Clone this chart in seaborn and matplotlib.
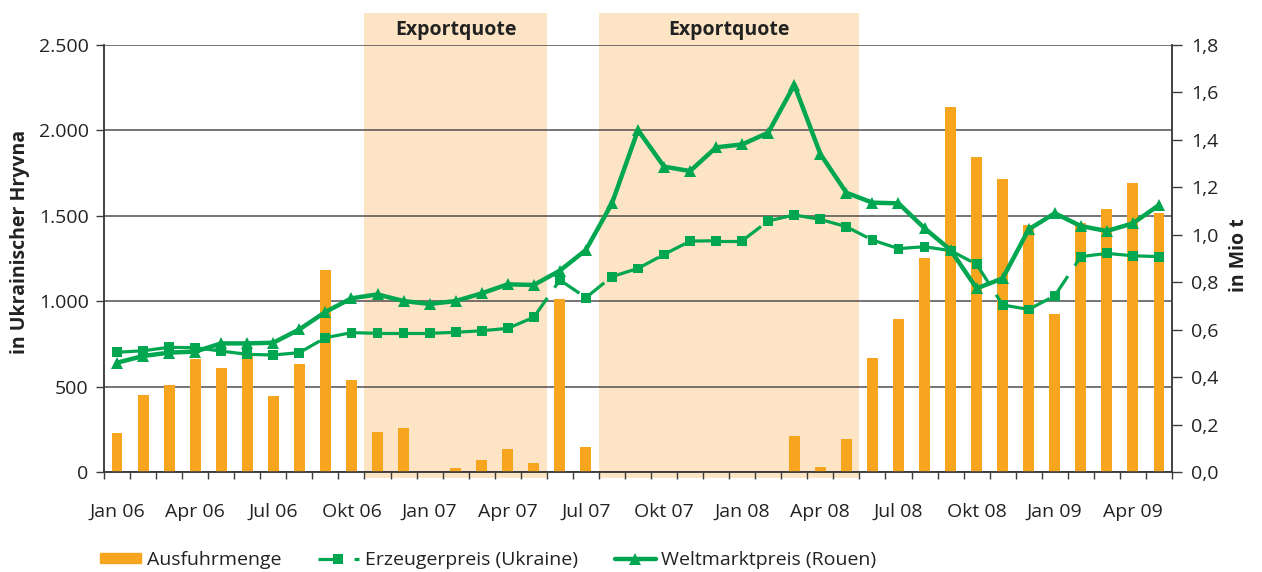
import numpy as np
import matplotlib.pyplot as plt
import seaborn as sns
from matplotlib.lines import Line2D
from matplotlib.patches import Patch
from matplotlib.ticker import FuncFormatter

# months Jan 06 .. Mai 09
monate = ["Jan", "Feb", "Mär", "Apr", "Mai", "Jun", "Jul", "Aug", "Sep", "Okt", "Nov", "Dez"]
months = [f"{m} {j:02d}" for j in (6, 7, 8, 9) for m in monate][:41]
tick_labels = months[::3]

# Ausfuhrmenge in Mio t (right axis)
ausfuhr = [0.166, 0.323, 0.366, 0.475, 0.437, 0.500, 0.322, 0.457, 0.852, 0.387, 0.167, 0.187,
           0.0, 0.017, 0.051, 0.098, 0.039, 0.729, 0.104, 0.002, 0.002, 0.002, 0.002, 0.0,
           0.0, 0.002, 0.152, 0.020, 0.139, 0.482, 0.644, 0.904, 1.537, 1.329, 1.234, 1.040,
           0.667, 1.048, 1.110, 1.220, 1.092]

# Erzeugerpreis (Ukraine), Hryvna
erzeuger = [701, 710, 730, 728, 708, 689, 685, 699, 786, 816, 812, 812,
            812, 818, 827, 841, 906, 1124, 1021, 1144, 1192, 1274, 1352, 1354,
            1354, 1470, 1505, 1479, 1436, 1358, 1308, 1319, 1296, 1216, 978, 952,
            1032, 1261, 1280, 1266, 1261]

# Weltmarktpreis (Rouen), Hryvna
welt = [640, 679, 699, 705, 753, 753, 757, 835, 937, 1017, 1040, 1001,
        984, 1001, 1046, 1099, 1095, 1179, 1300, 1573, 2002, 1788, 1762, 1901,
        1918, 1987, 2266, 1862, 1635, 1577, 1573, 1427, 1300, 1075, 1134, 1421,
        1515, 1440, 1411, 1456, 1563]

# Exportquote periods (first and last month)
quote_perioden = [("Nov 06", "Mai 07"), ("Aug 07", "Mai 08")]

orange = "#F7A51E"
green = "#00A650"
peach = "#FDE4C4"
dark = "#3c3c3c"

sns.set_theme(style="white")
plt.rcParams["font.family"] = ["Open Sans", "DejaVu Sans"]
plt.rcParams["lines.scale_dashes"] = False
fs = 14

fig = plt.figure(figsize=(12.62, 5.72), dpi=100)
ax = fig.add_axes([0.0824, 0.1748, 0.8463, 0.7465])
ax_b = ax.twinx()
ax_l = ax.twinx()

idx = np.arange(len(months))

# shaded periods with label
for start, end in quote_perioden:
    a, b = months.index(start) - 0.5, months.index(end) + 0.5
    ax.axvspan(a, b, ymin=-0.014, ymax=1.075, color=peach, lw=0, zorder=0, clip_on=False)
    ax.text((a + b) / 2, 1.034, "Exportquote", transform=ax.get_xaxis_transform(),
            ha="center", va="center", fontsize=fs, fontweight="bold", color="#222222")

# bars on right axis
sns.barplot(x=idx, y=ausfuhr, ax=ax_b, color=orange, saturation=1, width=0.42, linewidth=0)

# lines on left scale
sns.lineplot(x=idx, y=welt, ax=ax_l, color=green, lw=3.2, marker="^",
             markersize=8.5, markeredgewidth=0, zorder=3)
for i in range(len(idx) - 1):
    ax_l.plot(idx[i:i + 2], erzeuger[i:i + 2], color=green, lw=2.3,
              dashes=(17, 9), dash_capstyle="butt", zorder=4)
sns.scatterplot(x=idx, y=erzeuger, ax=ax_l, color=green, marker="s", s=50,
                edgecolor="none", zorder=5)

# left axis (Hryvna)
ax.set_ylim(0, 2500)
ax.set_yticks(range(0, 2501, 500))
ax.yaxis.set_major_formatter(FuncFormatter(lambda v, p: f"{int(v):,}".replace(",", ".")))
ax.yaxis.grid(True, color="#505050", lw=1.1)
ax.set_axisbelow(True)
ax.set_ylabel("in Ukrainischer Hryvna", fontsize=fs, fontweight="bold", color="#222222")
ax.yaxis.set_label_coords(-0.069, 0.539)

# right axis (Mio t)
ax_b.set_ylim(0, 1.8)
ax_b.set_yticks(np.arange(0, 1.81, 0.2))
ax_b.yaxis.set_major_formatter(FuncFormatter(lambda v, p: f"{v:.1f}".replace(".", ",")))
ax_b.set_ylabel("in Mio t", fontsize=fs, fontweight="bold", color="#222222")
ax_b.yaxis.set_label_coords(1.053, 0.508)
ax_b.set_xlabel("")

ax_l.set_ylim(0, 2500)
ax_l.axis("off")

# x axis
ax.set_xlim(-0.5, len(months) - 0.5)
ax.set_xticks(idx[::3], labels=tick_labels)
ax.set_xticks(np.arange(-0.5, len(months)), minor=True)
ax.tick_params(axis="x", which="major", length=0, pad=22, labelsize=fs, labelcolor="#222222")
ax.tick_params(axis="x", which="minor", length=5, width=1, color=dark, direction="out", bottom=True)
ax.tick_params(axis="y", length=6, width=1, color=dark, direction="out", pad=5,
               labelsize=fs, labelcolor="#222222", left=True)
ax_b.tick_params(axis="y", length=7, width=1, color=dark, direction="out", pad=7,
                 labelsize=fs, labelcolor="#222222", right=True)

for a_ in (ax, ax_b):
    for side in ("left", "right", "bottom"):
        a_.spines[side].set_color(dark)
        a_.spines[side].set_linewidth(1.1)
    a_.spines["top"].set_visible(False)

# legend
handles = [
    Patch(color=orange),
    Line2D([], [], color=green, lw=2.3, dashes=(17, 9), marker="s", markersize=7,
           markeredgewidth=0),
    Line2D([], [], color=green, lw=3.2, marker="^", markersize=8, markeredgewidth=0),
]
labels = ["Ausfuhrmenge", "Erzeugerpreis (Ukraine)", "Weltmarktpreis (Rouen)"]
fig.legend(handles, labels, loc="center left", bbox_to_anchor=(0.0792, 0.021), ncol=3,
           frameon=False, fontsize=fs, handlelength=2.1, handleheight=0.46,
           handletextpad=0.3, columnspacing=1.9, borderpad=0, borderaxespad=0,
           labelcolor="#222222")

fig.savefig("out.png", dpi=100)
